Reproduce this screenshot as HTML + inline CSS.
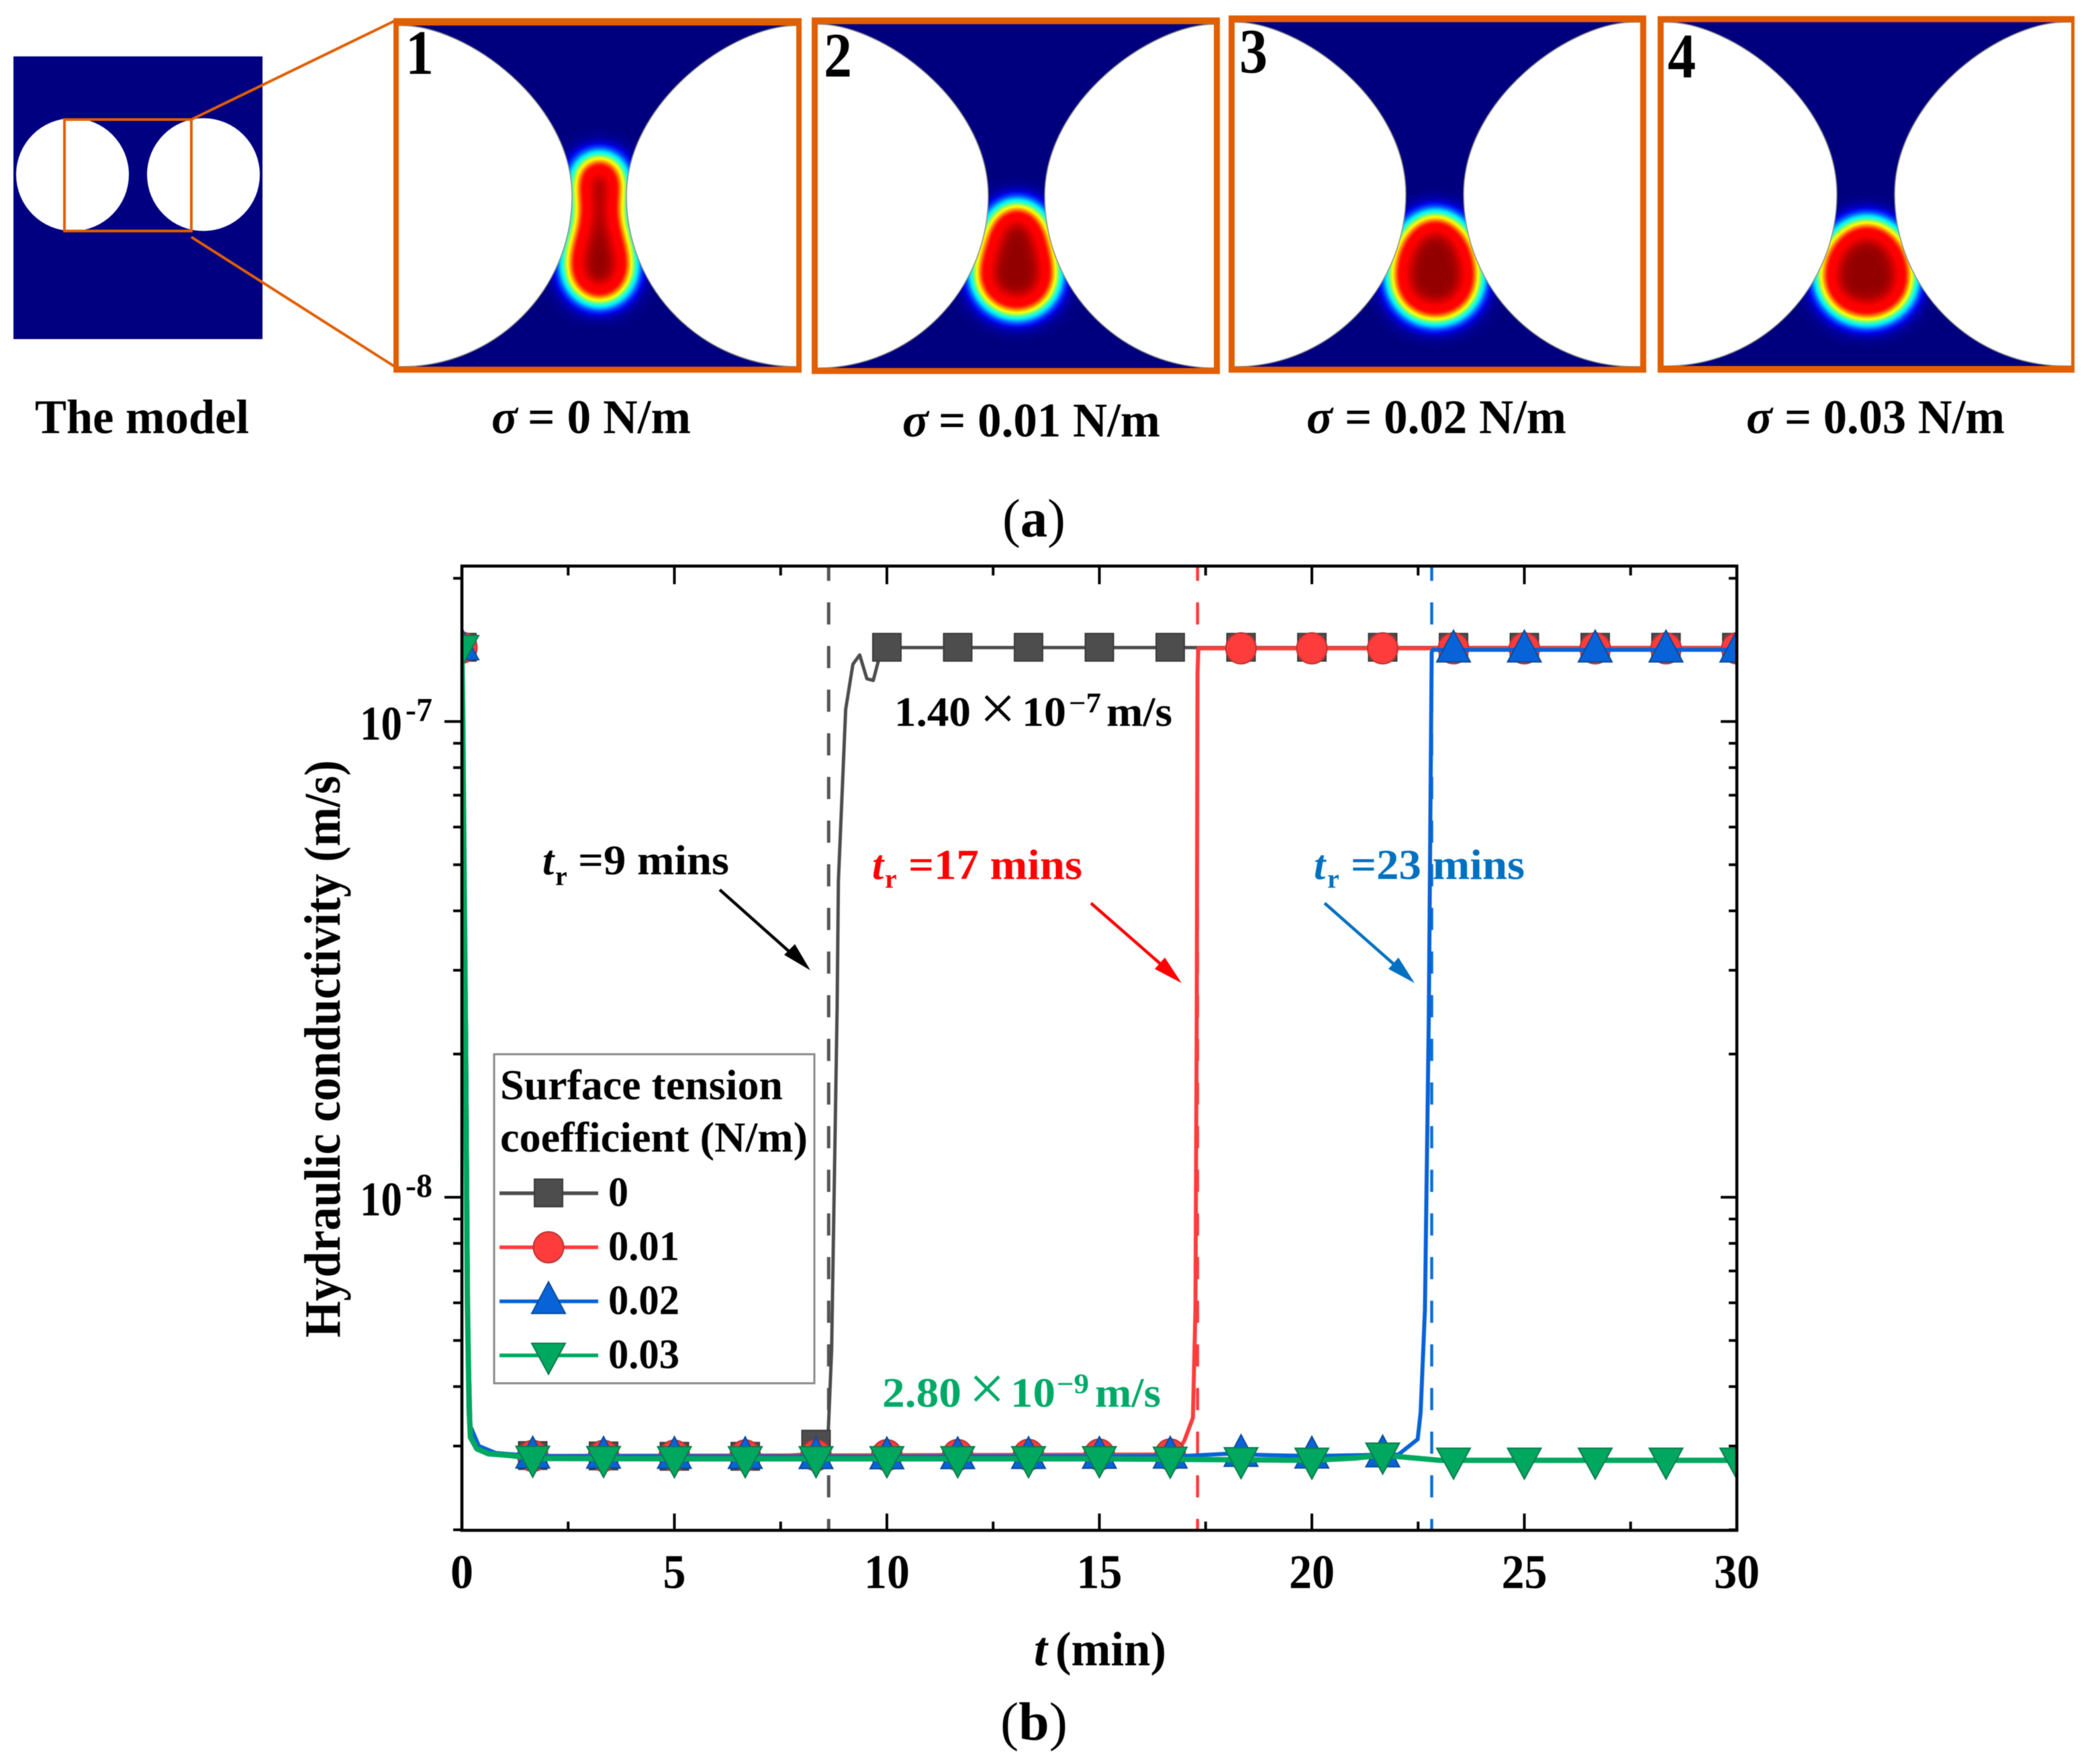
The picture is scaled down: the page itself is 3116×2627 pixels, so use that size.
<!DOCTYPE html>
<html lang="en">
<head>
<meta charset="utf-8">
<title>Hydraulic conductivity and surface tension</title>
<style>
html,body{margin:0;padding:0;background:#fff;}
svg{display:block;filter:blur(0.6px);}
text{font-family:"Liberation Serif",serif;font-weight:bold;fill:#000;}
</style>
</head>
<body>
<svg id="figure" xmlns="http://www.w3.org/2000/svg" width="3116" height="2627" viewBox="0 0 3116 2627">
<defs>
  <filter id="jet" filterUnits="userSpaceOnUse" x="0" y="0" width="3116" height="600" color-interpolation-filters="sRGB">
    <feGaussianBlur stdDeviation="18"/>
    <feComponentTransfer>
      <feFuncR type="table" tableValues="0 0 0 0 0 0 0 .15 .45 .75 1 1 1 1 1 1 1 1 .92 .78 .58"/>
      <feFuncG type="table" tableValues="0 0 0 .15 .4 .7 .95 1 1 1 1 .75 .5 .25 .05 0 0 0 0 0 0"/>
      <feFuncB type="table" tableValues=".5 .65 .85 1 1 1 1 .8 .5 .25 0 0 0 0 0 0 0 0 0 0 0"/>
    </feComponentTransfer>
  </filter>
  <clipPath id="panels-clip">
    <rect x="594" y="38" width="592" height="508"/>
    <rect x="1218" y="36" width="590" height="512"/>
    <rect x="1839" y="33" width="604" height="513"/>
    <rect x="2478" y="33" width="607" height="512"/>
  </clipPath>
  <clipPath id="plot-clip"><rect x="688" y="843" width="1899" height="1436"/></clipPath>
</defs>

<rect width="3116" height="2627" fill="#fff"/>

<g>
  <g>
    <rect x="20" y="84" width="371" height="421" fill="#000080"/>
    <ellipse cx="108" cy="260" rx="84" ry="84" fill="#fff"/>
    <ellipse cx="303" cy="260" rx="84" ry="84" fill="#fff"/>
    <rect x="96" y="178" width="189" height="166" fill="none" stroke="#e15f00" stroke-width="4"/>
    <line x1="285" y1="178" x2="588" y2="31" stroke="#e15f00" stroke-width="4"/>
    <line x1="285" y1="353" x2="588" y2="546" stroke="#e15f00" stroke-width="4"/>
  </g>

  <g clip-path="url(#panels-clip)">
    <g filter="url(#jet)">
      <rect x="0" y="0" width="3116" height="600" fill="#000"/>
      <path fill="#fff" d="M893 232C917 232 930 250 930 270C930 290 924 300 926 320C928 345 942 365 942 395C942 429 920 450 893 450C866 450 844 429 844 395C844 365 858 345 860 320C862 300 856 290 856 270C856 250 869 232 893 232Z"/>
      <path fill="#fff" d="M1515 304C1541 304 1558 325 1564 355C1568 375 1574 390 1574 408C1574 444 1547 468 1515 468C1483 468 1453 444 1453 408C1453 390 1461 375 1466 355C1472 325 1489 304 1515 304Z"/>
      <path fill="#fff" d="M2138 320C2176 320 2203 365 2203 413C2203 450 2175 477 2138 477C2101 477 2073 450 2073 413C2073 365 2100 320 2138 320Z"/>
      <path fill="#fff" d="M2781 329C2821 329 2849 370 2849 413C2849 450 2820 477 2781 477C2742 477 2711 450 2711 413C2711 370 2741 329 2781 329Z"/>
    </g>
    <g fill="#fff" stroke="#8a8a8a" stroke-width="1.5">
      <path d="M568 38H598C695 38 852 152 852 292C852 432 738 546 598 546H568Z"/>
      <path d="M1217 38H1187C1090 38 933 152 933 292C933 432 1047 546 1187 546H1217Z"/>
      <path d="M1188 36H1218C1315 36 1472 151 1472 292C1472 433 1358 548 1218 548H1188Z"/>
      <path d="M1840 36H1810C1713 36 1556 151 1556 292C1556 433 1670 548 1810 548H1840Z"/>
      <path d="M1810 33H1840C1937 33 2094 148 2094 289C2094 430 1980 546 1840 546H1810Z"/>
      <path d="M2464 33H2434C2337 33 2180 148 2180 289C2180 430 2294 546 2434 546H2464Z"/>
      <path d="M2452 33H2482C2579 33 2736 148 2736 289C2736 430 2622 545 2482 545H2452Z"/>
      <path d="M3106 33H3076C2979 33 2822 148 2822 289C2822 430 2936 545 3076 545H3106Z"/>
    </g>
  </g>

  <path fill="#e15f00" fill-rule="evenodd" d="M586 27H1194V555H586ZM594 38V546H1186V38Z"/>
  <path fill="#e15f00" fill-rule="evenodd" d="M1209 26H1817V557H1209ZM1218 36V548H1808V36Z"/>
  <path fill="#e15f00" fill-rule="evenodd" d="M1830 23H2452V555H1830ZM1839 33V546H2443V33Z"/>
  <path fill="#e15f00" fill-rule="evenodd" d="M2469 24H3090V555H2469ZM2478 33V545H3085V33Z"/>

  <text x="604" y="110" font-size="94" textLength="42" lengthAdjust="spacingAndGlyphs">1</text>
  <text x="1227" y="114" font-size="94" textLength="42" lengthAdjust="spacingAndGlyphs">2</text>
  <text x="1846" y="108" font-size="94" textLength="42" lengthAdjust="spacingAndGlyphs">3</text>
  <text x="2484" y="115" font-size="94" textLength="42" lengthAdjust="spacingAndGlyphs">4</text>

  <text x="52" y="645" font-size="72" textLength="319" lengthAdjust="spacingAndGlyphs">The model</text>

  <text x="732" y="645" font-size="72" font-style="italic">σ</text>
  <text x="786" y="645" font-size="72" textLength="243" lengthAdjust="spacingAndGlyphs">= 0 N/m</text>
  <text x="1344" y="650" font-size="72" font-style="italic">σ</text>
  <text x="1398" y="650" font-size="72" textLength="330" lengthAdjust="spacingAndGlyphs">= 0.01 N/m</text>
  <text x="1946" y="645" font-size="72" font-style="italic">σ</text>
  <text x="2003" y="645" font-size="72" textLength="330" lengthAdjust="spacingAndGlyphs">= 0.02 N/m</text>
  <text x="2601" y="645" font-size="72" font-style="italic">σ</text>
  <text x="2658" y="645" font-size="72" textLength="328" lengthAdjust="spacingAndGlyphs">= 0.03 N/m</text>

  <text x="1493" y="799" font-size="80" textLength="94" lengthAdjust="spacingAndGlyphs"><tspan font-weight="normal">(</tspan>a<tspan font-weight="normal">)</tspan></text>
</g>

<g id="chart">
  <g id="guide-layer"></g>
  <g id="series-layer" clip-path="url(#plot-clip)"></g>
  <g id="axis-layer"></g>

  <text x="0" y="0" transform="translate(506 1992) rotate(-90)" font-size="76" textLength="860" lengthAdjust="spacingAndGlyphs">Hydraulic conductivity (m/s)</text>
  <text x="1540" y="2480" font-size="72" font-style="italic">t</text>
  <text x="1572" y="2480" font-size="72" textLength="165" lengthAdjust="spacingAndGlyphs">(min)</text>

  <g>
    <text x="1332" y="1081" font-size="62" textLength="114" lengthAdjust="spacingAndGlyphs">1.40</text>
    <text x="1459" y="1087" font-size="96" font-weight="normal" style="font-weight:normal">×</text>
    <text x="1522" y="1081" font-size="62" textLength="66" lengthAdjust="spacingAndGlyphs">10</text>
    <text x="1592" y="1061" font-size="42" textLength="48" lengthAdjust="spacingAndGlyphs">−7</text>
    <text x="1648" y="1081" font-size="62" textLength="98" lengthAdjust="spacingAndGlyphs">m/s</text>
  </g>
  <g>
    <text x="1314" y="2095" font-size="62" textLength="118" lengthAdjust="spacingAndGlyphs" style="fill:#00a968">2.80</text>
    <text x="1443" y="2100" font-size="96" style="font-weight:normal;fill:#00a968">×</text>
    <text x="1505" y="2095" font-size="62" textLength="67" lengthAdjust="spacingAndGlyphs" style="fill:#00a968">10</text>
    <text x="1574" y="2075" font-size="42" textLength="48" lengthAdjust="spacingAndGlyphs" style="fill:#00a968">−9</text>
    <text x="1631" y="2095" font-size="62" textLength="98" lengthAdjust="spacingAndGlyphs" style="fill:#00a968">m/s</text>
  </g>

  <g>
    <text x="808" y="1302" font-size="62" font-style="italic">t</text>
    <text x="827" y="1318" font-size="40">r</text>
    <text x="861" y="1302" font-size="62" textLength="225" lengthAdjust="spacingAndGlyphs">=9 mins</text>
  </g>
  <g>
    <text x="1299" y="1309" font-size="62" font-style="italic" style="fill:#ff0000">t</text>
    <text x="1318" y="1322" font-size="40" style="fill:#ff0000">r</text>
    <text x="1353" y="1309" font-size="64" textLength="259" lengthAdjust="spacingAndGlyphs" style="fill:#ff0000">=17 mins</text>
  </g>
  <g>
    <text x="1957" y="1309" font-size="62" font-style="italic" style="fill:#0070c0">t</text>
    <text x="1977" y="1322" font-size="40" style="fill:#0070c0">r</text>
    <text x="2012" y="1309" font-size="64" textLength="259" lengthAdjust="spacingAndGlyphs" style="fill:#0070c0">=23 mins</text>
  </g>

  <g>
    <line x1="1072" y1="1325" x2="1190" y2="1430" stroke="#000" stroke-width="4.5"/>
    <polygon points="1207,1445 1168,1422 1184,1406" fill="#000"/>
  </g>
  <g>
    <line x1="1625" y1="1345" x2="1744" y2="1449" stroke="#ff0000" stroke-width="4.5"/>
    <polygon points="1760,1464 1720,1443 1735,1426" fill="#ff0000"/>
  </g>
  <g>
    <line x1="1973" y1="1345" x2="2091" y2="1449" stroke="#0070c0" stroke-width="4.5"/>
    <polygon points="2107,1464 2068,1443 2083,1426" fill="#0070c0"/>
  </g>

  <g id="legend">
    <rect x="736" y="1570" width="477" height="490" fill="#fff" stroke="#8a8a8a" stroke-width="3"/>
    <text x="745" y="1637" font-size="64" textLength="421" lengthAdjust="spacingAndGlyphs">Surface tension</text>
    <text x="745" y="1715" font-size="64" textLength="458" lengthAdjust="spacingAndGlyphs">coefficient (N/m)</text>
  </g>

  <text x="1490" y="2591" font-size="80" textLength="100" lengthAdjust="spacingAndGlyphs"><tspan font-weight="normal">(</tspan>b<tspan font-weight="normal">)</tspan></text>
</g>

<script>
// ---- chart data ----
const xTickValues = [0, 5, 10, 15, 20, 25, 30];
const xMinorTickValues = [2.5, 7.5, 12.5, 17.5, 22.5, 27.5];
const yDecadeExponents = [-7, -8];
const yMinorTickValues = [2e-7, 9e-8, 8e-8, 7e-8, 6e-8, 5e-8, 4e-8, 3e-8, 2e-8, 9e-9, 8e-9, 7e-9, 6e-9, 5e-9, 4e-9, 3e-9, 2e-9];
const markerTimes = [0, 1.667, 3.333, 5, 6.667, 8.333, 10, 11.667, 13.333, 15, 16.667, 18.333, 20, 21.667, 23.333, 25, 26.667, 28.333, 30];
const breakthroughTimes = [8.63, 17.31, 22.82];
const legendLabels = ['0', '0.01', '0.02', '0.03'];

const gray0Times = [0, 0.02, 0.1, 0.15, 0.2, 0.4, 0.8, 1.67, 5, 7, 8, 8.33, 8.54, 8.62, 8.7, 8.83, 8.86, 9.03, 9.2, 9.36, 9.53, 9.68, 9.8, 10, 30];
const gray0Values = [1.43e-7, 1e-7, 2.2e-8, 5e-9, 3.3e-9, 3e-9, 2.9e-9, 2.86e-9, 2.85e-9, 2.85e-9, 2.88e-9, 3.02e-9, 3.18e-9, 3.2e-9, 4.78e-9, 2.51e-8, 4.63e-8, 1.06e-7, 1.32e-7, 1.38e-7, 1.23e-7, 1.22e-7, 1.34e-7, 1.43e-7, 1.43e-7];
const red001Times = [0, 0.02, 0.1, 0.15, 0.2, 0.4, 0.8, 1.67, 10, 16.8, 17, 17.2, 17.26, 17.29, 17.31, 17.33, 30];
const red001Values = [1.43e-7, 1e-7, 2.2e-8, 5e-9, 3.3e-9, 3e-9, 2.9e-9, 2.86e-9, 2.87e-9, 2.88e-9, 3.08e-9, 3.44e-9, 5.8e-9, 2.35e-8, 1.27e-7, 1.425e-7, 1.425e-7];
const blue002Times = [0, 0.02, 0.1, 0.15, 0.2, 0.4, 0.8, 1.67, 10, 17, 18, 19, 20, 22.04, 22.49, 22.56, 22.66, 22.75, 22.82, 22.85, 30];
const blue002Values = [1.43e-7, 1e-7, 2.2e-8, 5e-9, 3.3e-9, 3e-9, 2.9e-9, 2.86e-9, 2.85e-9, 2.86e-9, 2.89e-9, 2.87e-9, 2.86e-9, 2.88e-9, 3.1e-9, 3.53e-9, 5.8e-9, 2.35e-8, 1.4e-7, 1.415e-7, 1.415e-7];
const green003Times = [0, 0.02, 0.08, 0.13, 0.17, 0.2, 0.35, 0.62, 1.14, 1.67, 5, 15, 20, 21, 21.67, 23, 30];
const green003Values = [1.43e-7, 1e-7, 2.4e-8, 6e-9, 3.57e-9, 3.13e-9, 2.96e-9, 2.89e-9, 2.865e-9, 2.825e-9, 2.82e-9, 2.82e-9, 2.8e-9, 2.83e-9, 2.87e-9, 2.8e-9, 2.8e-9];

// ---- axis functions ----
const X0 = 688, XU = 63.3;
const Y7 = 1074.5, YD = 708.5;
function xScale(t) { return X0 + XU * t; }
function yScale(v) { return Y7 - YD * (Math.log10(v) + 7); }
const PLOT = { left: 688, right: 2587, top: 843, bottom: 2279 };

const NS = 'http://www.w3.org/2000/svg';
function make(tag, attrs, parent, txt) {
  const e = document.createElementNS(NS, tag);
  for (const k in attrs) e.setAttribute(k, attrs[k]);
  if (txt !== undefined) e.textContent = txt;
  parent.appendChild(e);
  return e;
}
function valueAt(times, values, t) {
  if (t <= times[0]) return values[0];
  for (let i = 1; i < times.length; i++) {
    if (t <= times[i]) {
      const f = (t - times[i - 1]) / (times[i] - times[i - 1]);
      return Math.pow(10, Math.log10(values[i - 1]) + f * (Math.log10(values[i]) - Math.log10(values[i - 1])));
    }
  }
  return values[values.length - 1];
}
function drawMarker(kind, cx, cy, fill, edge, parent) {
  const base = { fill: fill, stroke: edge, 'stroke-width': 2 };
  if (kind === 'square') {
    return make('rect', Object.assign({ x: cx - 21, y: cy - 21, width: 42, height: 41 }, base), parent);
  }
  if (kind === 'circle') {
    return make('ellipse', Object.assign({ cx: cx, cy: cy, rx: 22.5, ry: 23 }, base), parent);
  }
  if (kind === 'up') {
    return make('polygon', Object.assign({ points: (cx) + ',' + (cy - 29) + ' ' + (cx + 25) + ',' + (cy + 18) + ' ' + (cx - 25) + ',' + (cy + 18) }, base), parent);
  }
  return make('polygon', Object.assign({ points: (cx) + ',' + (cy + 28) + ' ' + (cx + 25) + ',' + (cy - 18) + ' ' + (cx - 25) + ',' + (cy - 18) }, base), parent);
}

const seriesList = [
  { id: 'sigma-0', times: gray0Times, values: gray0Values, color: '#4d4d4d', edge: '#3a3a3a', kind: 'square', width: 5 },
  { id: 'sigma-0-01', times: red001Times, values: red001Values, color: '#ff3c3c', edge: '#b83434', kind: 'circle', width: 6 },
  { id: 'sigma-0-02', times: blue002Times, values: blue002Values, color: '#0863d8', edge: '#0b4a96', kind: 'up', width: 6 },
  { id: 'sigma-0-03', times: green003Times, values: green003Values, color: '#00a85f', edge: '#0b7a4c', kind: 'down', width: 8 }
];

// ---- dashed breakthrough guides ----
const guideLayer = document.getElementById('guide-layer');
const guideColors = ['#555555', '#ff3c3c', '#0a6fd8'];
breakthroughTimes.forEach(function (t, i) {
  const g = make('line', { x1: xScale(t), x2: xScale(t), y1: PLOT.top, y2: PLOT.bottom, stroke: guideColors[i], 'stroke-width': i === 0 ? 5 : 4.5, 'stroke-dasharray': '33 32', 'stroke-dashoffset': 11 }, guideLayer);
  
  
});

// ---- series ----
const seriesLayer = document.getElementById('series-layer');
seriesList.forEach(function (s) {
  const group = make('g', {}, seriesLayer);
  
  
  const pts = s.times.map(function (t, i) { return xScale(t).toFixed(1) + ',' + yScale(s.values[i]).toFixed(1); }).join(' ');
  const line = make('polyline', { points: pts, fill: 'none', stroke: s.color, 'stroke-width': s.width, 'stroke-linejoin': 'round' }, group);
  
  
  markerTimes.forEach(function (t) {
    const mk = drawMarker(s.kind, xScale(t), yScale(valueAt(s.times, s.values, t)), s.color, s.edge, group);
    
    
  });
});

// ---- axes ----
const axisLayer = document.getElementById('axis-layer');
const frame = make('rect', { x: PLOT.left, y: PLOT.top, width: PLOT.right - PLOT.left, height: PLOT.bottom - PLOT.top, fill: 'none', stroke: '#000', 'stroke-width': 4.5 }, axisLayer);



xTickValues.forEach(function (t) {
  const x = xScale(t);
  const a = make('line', { x1: x, x2: x, y1: PLOT.bottom, y2: PLOT.bottom - 25, stroke: '#000', 'stroke-width': 4 }, axisLayer);
  
  
  const b = make('line', { x1: x, x2: x, y1: PLOT.top, y2: PLOT.top + 27, stroke: '#000', 'stroke-width': 4 }, axisLayer);
  
  
  const lab = make('text', { x: x, y: 2365, 'font-size': 72, 'text-anchor': 'middle', textLength: String(t).length * 34, lengthAdjust: 'spacingAndGlyphs' }, axisLayer, String(t));
  
  
});
xMinorTickValues.forEach(function (t) {
  const x = xScale(t);
  const a = make('line', { x1: x, x2: x, y1: PLOT.bottom, y2: PLOT.bottom - 13, stroke: '#000', 'stroke-width': 4 }, axisLayer);
  
  
  const b = make('line', { x1: x, x2: x, y1: PLOT.top, y2: PLOT.top + 14, stroke: '#000', 'stroke-width': 4 }, axisLayer);
  
  
});
yDecadeExponents.forEach(function (e) {
  const y = yScale(Math.pow(10, e));
  const a = make('line', { x1: PLOT.left, x2: PLOT.left - 26, y1: y, y2: y, stroke: '#000', 'stroke-width': 4 }, axisLayer);
  
  
  const b = make('line', { x1: PLOT.right, x2: PLOT.right - 24, y1: y, y2: y, stroke: '#000', 'stroke-width': 4 }, axisLayer);
  
  
  const base = make('text', { x: 536, y: y + 27, 'font-size': 72, textLength: 63, lengthAdjust: 'spacingAndGlyphs' }, axisLayer, '10');
  
  
  const sup = make('text', { x: 604, y: y - 1, 'font-size': 50, textLength: 40, lengthAdjust: 'spacingAndGlyphs' }, axisLayer, String(e));
  
  
});
yMinorTickValues.forEach(function (v) {
  const y = yScale(v);
  const a = make('line', { x1: PLOT.left, x2: PLOT.left - 13, y1: y, y2: y, stroke: '#000', 'stroke-width': 4 }, axisLayer);
  
  
  const b = make('line', { x1: PLOT.right, x2: PLOT.right - 12, y1: y, y2: y, stroke: '#000', 'stroke-width': 4 }, axisLayer);
  
  
});

// ---- legend entries ----
const legend = document.getElementById('legend');
const legendRowStart = 1777, legendRowGap = 80.5;
seriesList.forEach(function (s, i) {
  const rowY = legendRowStart + legendRowGap * i;
  const row = make('g', {}, legend);
  
  
  const ln = make('line', { x1: 744, x2: 891, y1: rowY, y2: rowY, stroke: s.color, 'stroke-width': 5.5 }, row);
  
  
  const mk = drawMarker(s.kind, 817, rowY, s.color, s.edge, row);
  
  
  const tx = make('text', { x: 906, y: rowY + 19, 'font-size': 62, textLength: legendLabels[i].length === 1 ? 30 : 106, lengthAdjust: 'spacingAndGlyphs' }, row, legendLabels[i]);
  
  
});
</script>
</svg>
</body>
</html>
